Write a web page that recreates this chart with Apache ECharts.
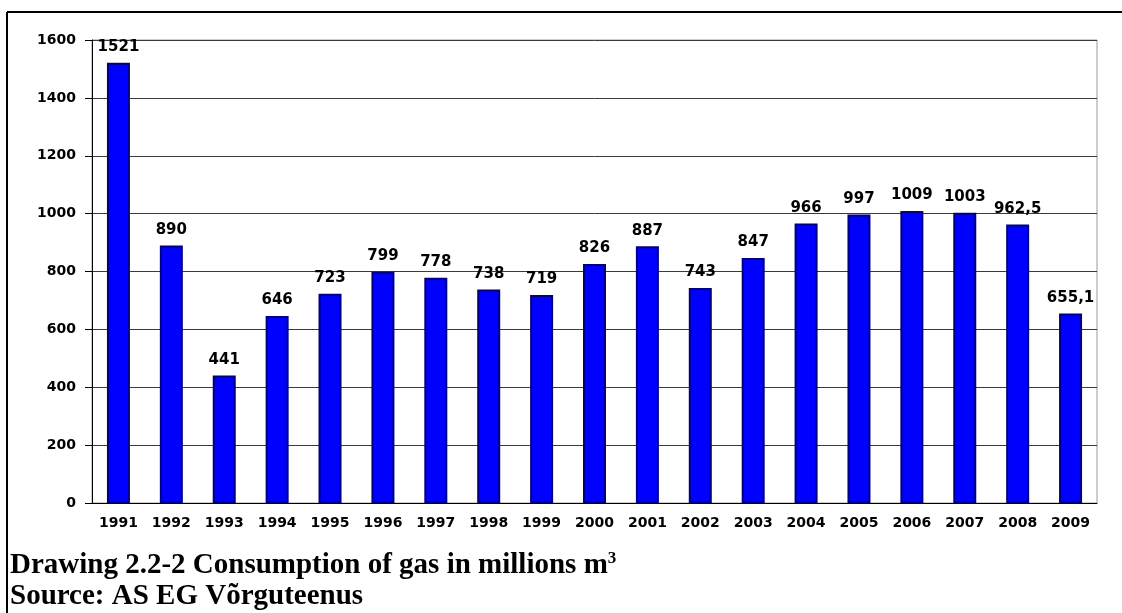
<!DOCTYPE html>
<html>
<head>
<meta charset="utf-8">
<title>Consumption of gas</title>
<script src="https://cdn.jsdelivr.net/npm/echarts@6/dist/echarts.min.js"></script>
<style>
  html, body { margin: 0; padding: 0; background: #fff; }
  #main { width: 1122px; height: 613px; }
</style>
</head>
<body>
<div id="main"></div>
<script>
var years = ['1991','1992','1993','1994','1995','1996','1997','1998','1999','2000',
             '2001','2002','2003','2004','2005','2006','2007','2008','2009'];
var consumption = [1521, 890, 441, 646, 723, 799, 778, 738, 719, 826,
                   887, 743, 847, 966, 997, 1009, 1003, 962.5, 655.1];
var valueLabels = ['1521','890','441','646','723','799','778','738','719','826',
                   '887','743','847','966','997','1009','1003','962,5','655,1'];
var yTicks = [0, 200, 400, 600, 800, 1000, 1200, 1400, 1600];

var chart = echarts.init(document.getElementById('main'));

var option = {
    animation: false,
    backgroundColor: '#fff',
    title: {
        left: 10,
        top: 550,
        padding: 0,
        text: 'Drawing 2.2-2 Consumption of gas in millions m{sup|3}\nSource: AS EG Võrguteenus',
        textStyle: {
            fontFamily: 'Liberation Serif',
            fontWeight: 'bold',
            fontSize: 29,
            lineHeight: 31,
            color: '#000',
            rich: {
                sup: {
                    fontFamily: 'Liberation Serif',
                    fontWeight: 'bold',
                    fontSize: 17,
                    verticalAlign: 'top',
                    lineHeight: 17,
                    color: '#000'
                }
            }
        }
    },
    graphic: [
        // outer frame (top and left edges)
        { type: 'line', shape: { x1: 7, y1: 12, x2: 1122, y2: 12 }, style: { stroke: '#000', lineWidth: 2 } },
        { type: 'line', shape: { x1: 7, y1: 12, x2: 7, y2: 613 }, style: { stroke: '#000', lineWidth: 2 } }
    ],
    grid: {
        left: 92, right: 25, top: 40, bottom: 110,
        show: true,
        borderColor: '#9a9a9a',
        borderWidth: 1
    },
    xAxis: {
        type: 'category',
        data: years,
        axisLine: { lineStyle: { color: '#000', width: 1 } },
        axisTick: { show: false },
        axisLabel: {
            margin: 13,
            fontFamily: 'DejaVu Sans',
            fontWeight: 'bold',
            fontSize: 14,
            color: '#000'
        }
    },
    yAxis: {
        type: 'value',
        min: yTicks[0],
        max: yTicks[yTicks.length - 1],
        interval: 200,
        axisLine: { show: true, lineStyle: { color: '#000', width: 1 } },
        axisTick: { show: true, length: 7, lineStyle: { color: '#000' } },
        splitLine: { lineStyle: { color: '#3a3a3a', width: 1 } },
        axisLabel: {
            margin: 16,
            fontFamily: 'DejaVu Sans',
            fontWeight: 'bold',
            fontSize: 14,
            color: '#000',
            formatter: function (v) { return String(v); }
        }
    },
    series: [{
        type: 'bar',
        data: consumption,
        barWidth: 23,
        itemStyle: {
            color: '#0000ff',
            borderColor: '#000080',
            borderWidth: 2
        },
        label: {
            show: true,
            position: 'top',
            distance: 8,
            fontFamily: 'DejaVu Sans',
            fontWeight: 'bold',
            fontSize: 15,
            color: '#000',
            formatter: function (p) { return valueLabels[p.dataIndex]; }
        }
    }]
};

chart.setOption(option);
</script>
</body>
</html>
